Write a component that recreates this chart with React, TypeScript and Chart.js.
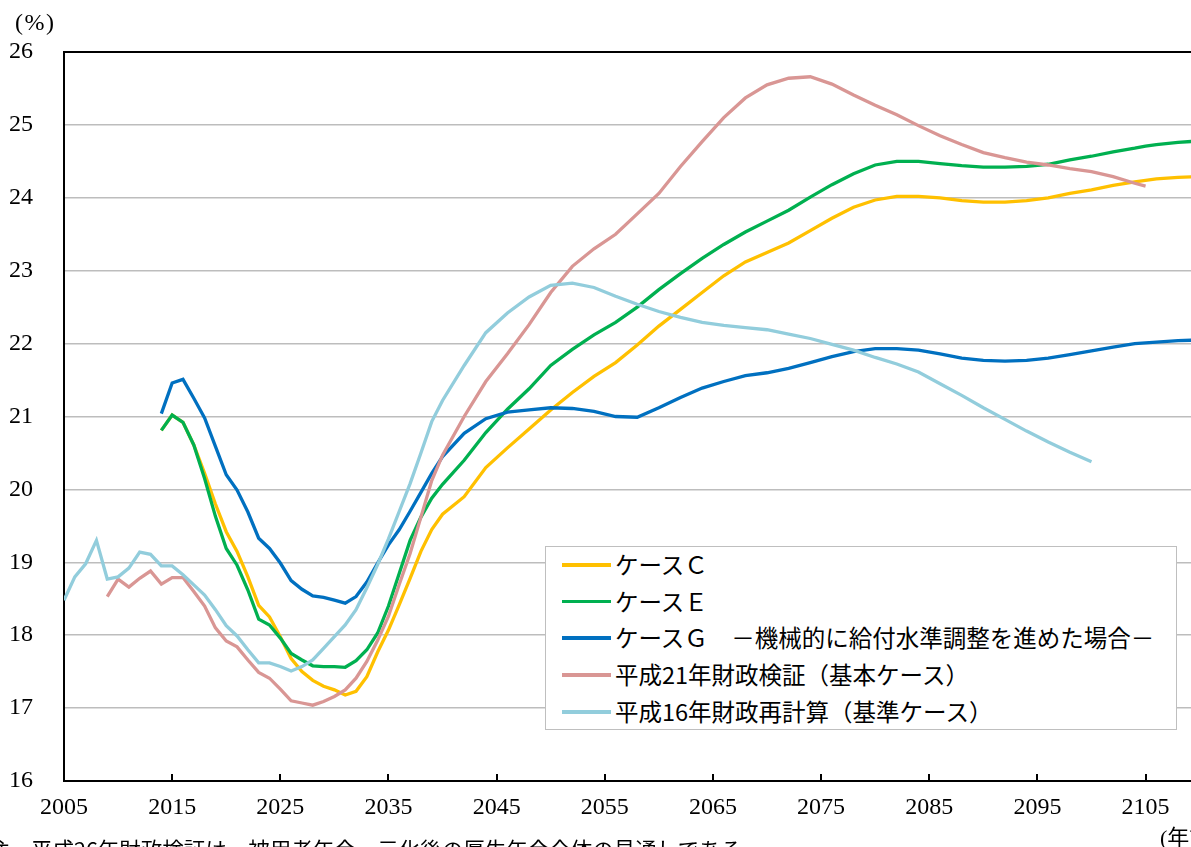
import React, { useEffect, useRef } from "react";
import { Chart, registerables } from "chart.js";

Chart.register(...registerables);

const years = [
  2005, 2006, 2007, 2008, 2009, 2010, 2011, 2012, 2013, 2014,
  2015, 2016, 2017, 2018, 2019, 2020, 2021, 2022, 2023, 2024,
  2025, 2026, 2027, 2028, 2029, 2030, 2031, 2032, 2033, 2034,
  2035, 2036, 2037, 2038, 2039, 2040,
  2042, 2044, 2046, 2048, 2050, 2052, 2054, 2056, 2058, 2060,
  2062, 2064, 2066, 2068, 2070, 2072, 2074, 2076, 2078, 2080,
  2082, 2084, 2086, 2088, 2090, 2092, 2094, 2096, 2098, 2100,
  2102, 2104, 2105, 2106, 2108, 2110,
];

const caseC = [
  null, null, null, null, null, null, null, null, null,
  20.81, 21.02, 20.92, 20.61, 20.22, 19.8, 19.42, 19.15, 18.8, 18.41, 18.25,
  17.98, 17.68, 17.5, 17.38, 17.3, 17.25, 17.18, 17.23, 17.43, 17.77,
  18.07, 18.42, 18.78, 19.15, 19.45, 19.66,
  19.9, 20.3, 20.57, 20.83, 21.09, 21.33, 21.55, 21.74, 21.98, 22.24,
  22.47, 22.7, 22.93, 23.12, 23.25, 23.38, 23.55, 23.72, 23.87, 23.97,
  24.02, 24.02, 24.0, 23.96, 23.94, 23.94, 23.96, 24.0, 24.06, 24.11,
  24.17, 24.22, 24.24, 24.26, 24.28, 24.29,
];

const caseE = [
  null, null, null, null, null, null, null, null, null,
  20.81, 21.02, 20.92, 20.61, 20.15, 19.63, 19.19, 18.96, 18.62, 18.22, 18.14,
  17.96, 17.75, 17.66, 17.58, 17.57, 17.57, 17.56, 17.65, 17.8, 18.03,
  18.4, 18.85, 19.3, 19.62, 19.88, 20.07,
  20.4, 20.78, 21.1, 21.38, 21.7, 21.92, 22.12, 22.29, 22.5, 22.74,
  22.96, 23.17, 23.36, 23.53, 23.68, 23.83, 24.01, 24.18, 24.33, 24.45,
  24.5, 24.5, 24.47, 24.44, 24.42, 24.42, 24.43, 24.46, 24.52, 24.57,
  24.63, 24.68, 24.71, 24.73, 24.76, 24.78,
];

const caseG = [
  null, null, null, null, null, null, null, null, null,
  21.04, 21.46, 21.51, 21.25, 20.98, 20.59, 20.2, 19.99, 19.69, 19.33, 19.19,
  18.99, 18.75, 18.63, 18.54, 18.52, 18.48, 18.44, 18.53, 18.73, 18.99,
  19.24, 19.45, 19.7, 19.96, 20.22, 20.45,
  20.77, 20.97, 21.06, 21.09, 21.12, 21.11, 21.07, 21.0, 20.99, 21.12,
  21.26, 21.39, 21.48, 21.56, 21.6, 21.66, 21.74, 21.82, 21.89, 21.93,
  21.93, 21.91, 21.86, 21.8, 21.77, 21.76, 21.77, 21.8, 21.85, 21.9,
  21.95, 22.0, 22.01, 22.02, 22.04, 22.05,
];

const h21Base = [
  null, null, null, null,
  18.53, 18.77, 18.66, 18.78, 18.88, 18.7,
  18.79, 18.79, 18.6, 18.4, 18.1, 17.92, 17.84, 17.66, 17.49, 17.41,
  17.26, 17.1, 17.07, 17.04, 17.09, 17.16, 17.25, 17.41, 17.64, 17.93,
  18.26, 18.7, 19.12, 19.62, 20.12, 20.47,
  21.0, 21.48, 21.86, 22.26, 22.7, 23.06, 23.3, 23.5, 23.78, 24.06,
  24.43, 24.77, 25.1, 25.37, 25.55, 25.64, 25.66, 25.56, 25.41, 25.27,
  25.14, 24.99, 24.85, 24.73, 24.62, 24.55, 24.49, 24.45, 24.4, 24.36,
  24.29, 24.2, 24.16, null, null, null,
];

const h16Base = [
  18.48, 18.8, 18.98, 19.3, 18.77, 18.8, 18.92, 19.14, 19.11, 18.95,
  18.95, 18.83, 18.69, 18.55, 18.35, 18.13, 17.99, 17.8, 17.62, 17.62,
  17.57, 17.51, 17.57, 17.66, 17.82, 17.98, 18.14, 18.35, 18.65, 18.97,
  19.32, 19.7, 20.08, 20.5, 20.93, 21.22,
  21.7, 22.15, 22.42, 22.64, 22.8, 22.83, 22.77, 22.65, 22.54, 22.44,
  22.36, 22.29, 22.25, 22.22, 22.19, 22.13, 22.07, 21.99, 21.91, 21.81,
  21.72, 21.61, 21.45, 21.29, 21.12, 20.96, 20.8, 20.65, 20.51, 20.38,
  null, null, null, null, null, null,
];

const xTickYears = [2005, 2015, 2025, 2035, 2045, 2055, 2065, 2075, 2085, 2095, 2105];
const yTickValues = [16, 17, 18, 19, 20, 21, 22, 23, 24, 25, 26];

const seriesLabels = [
  "ケースＣ",
  "ケースＥ",
  "ケースＧ　－機械的に給付水準調整を進めた場合－",
  "平成21年財政検証（基本ケース）",
  "平成16年財政再計算（基準ケース）",
];
const seriesValues = [caseC, caseE, caseG, h21Base, h16Base];
const seriesColors = ["#FFC000", "#00B050", "#0070C0", "#D99694", "#92CDDC"];

const yUnitLabel = "(%)";
const xUnitLabel = "(年)";
const noteText = "注　平成26年財政検証は、被用者年金一元化後の厚生年金全体の見通しである。";

const W = 1191;
const H = 847;

const innerTicks = {
  id: "innerTicks",
  afterDraw(chart: any) {
    const { ctx, chartArea } = chart;
    const x = chart.scales.x;
    ctx.save();
    ctx.strokeStyle = "#000";
    ctx.lineWidth = 2;
    xTickYears.forEach((v) => {
      if (v === xTickYears[0]) return;
      const px = Math.round(x.getPixelForValue(v));
      ctx.beginPath();
      ctx.moveTo(px, chartArea.bottom);
      ctx.lineTo(px, chartArea.bottom - 7);
      ctx.stroke();
    });
    ctx.restore();
  },
};

export default function App() {
  const ref = useRef<HTMLCanvasElement | null>(null);

  useEffect(() => {
    if (!ref.current) return;
    const datasets = seriesLabels.map((label, si) => ({
      label,
      data: years
        .map((yr, i) => ({ x: yr, y: seriesValues[si][i] }))
        .filter((p) => p.y !== null),
      borderColor: seriesColors[si],
      backgroundColor: seriesColors[si],
      borderWidth: 3.3,
      pointRadius: 0,
      tension: 0,
      fill: false,
      order: seriesLabels.length - si,
    }));
    const chart = new Chart(ref.current, {
      type: "line",
      data: { datasets: datasets as any },
      plugins: [innerTicks],
      options: {
        animation: false,
        responsive: false,
        devicePixelRatio: 1,
        layout: { padding: { top: 52, left: 0, right: 0, bottom: 0 } },
        plugins: {
          legend: { display: false },
          tooltip: { enabled: false },
        },
        scales: {
          x: {
            type: "linear",
            min: 2005,
            max: 2109.2,
            afterBuildTicks: (scale: any) => {
              scale.ticks = xTickYears.map((v) => ({ value: v }));
            },
            afterFit: (scale: any) => {
              scale.height = H - 781;
            },
            grid: { display: false, drawTicks: false },
            border: { display: true, color: "#000", width: 2 },
            ticks: {
              autoSkip: false,
              maxRotation: 0,
              padding: 12,
              color: "#000",
              font: { family: "'Liberation Serif', serif", size: 24 },
              callback: (v: any) => String(v),
            },
          },
          y: {
            min: 16,
            max: 26,
            afterBuildTicks: (scale: any) => {
              scale.ticks = yTickValues.map((v) => ({ value: v }));
            },
            afterFit: (scale: any) => {
              scale.width = 64;
            },
            grid: {
              drawTicks: false,
              color: (c: any) => (c.tick && c.tick.value === 26 ? "#000" : "#BDBDBD"),
              lineWidth: (c: any) => (c.tick && c.tick.value === 26 ? 2 : 1.5),
            },
            border: { display: true, color: "#000", width: 2 },
            ticks: {
              padding: 31,
              color: "#000",
              font: { family: "'Liberation Serif', serif", size: 24 },
            },
          },
        },
      } as any,
    });
    return () => chart.destroy();
  }, []);

  const rowCenters = [18, 54.7, 91, 128, 165];

  return (
    <div
      style={{
        position: "fixed",
        left: 0,
        top: 0,
        width: W,
        height: H,
        overflow: "hidden",
        background: "#fff",
      }}
    >
      <canvas
        ref={ref}
        width={W}
        height={H}
        style={{ position: "absolute", left: 0, top: 0, width: W, height: H }}
      />
      <div
        style={{
          position: "absolute",
          left: 15,
          top: 10,
          fontFamily: "'Liberation Serif', serif",
          fontSize: 24,
          lineHeight: "24px",
          letterSpacing: 1.5,
          color: "#000",
          whiteSpace: "nowrap",
        }}
      >
        {yUnitLabel}
      </div>
      <div
        style={{
          position: "absolute",
          left: 1160,
          top: 827,
          fontFamily: "'Liberation Serif', 'Noto Sans CJK JP', serif",
          fontSize: 22,
          lineHeight: "22px",
          color: "#000",
          whiteSpace: "nowrap",
        }}
      >
        {xUnitLabel}
      </div>
      <div
        style={{
          position: "absolute",
          left: -12,
          top: 838,
          fontFamily: "'Noto Sans CJK JP', sans-serif",
          fontSize: 21.5,
          lineHeight: "21.5px",
          color: "#000",
          whiteSpace: "nowrap",
        }}
      >
        {noteText}
      </div>
      <div
        style={{
          position: "absolute",
          left: 545,
          top: 546,
          width: 632,
          height: 184,
          boxSizing: "border-box",
          border: "1.5px solid #BFBFBF",
          background: "#fff",
        }}
      >
        {seriesLabels.map((label, i) => (
          <React.Fragment key={label}>
            <div
              style={{
                position: "absolute",
                left: 15.5,
                top: rowCenters[i] - 1.75,
                width: 49,
                height: 3.5,
                background: seriesColors[i],
              }}
            />
            <div
              style={{
                position: "absolute",
                left: 69,
                top: rowCenters[i] - 16,
                height: 30,
                lineHeight: "30px",
                fontFamily: "'Noto Sans CJK JP', sans-serif",
                fontSize: 23.5,
                color: "#000",
                whiteSpace: "nowrap",
              }}
            >
              {label}
            </div>
          </React.Fragment>
        ))}
      </div>
    </div>
  );
}
